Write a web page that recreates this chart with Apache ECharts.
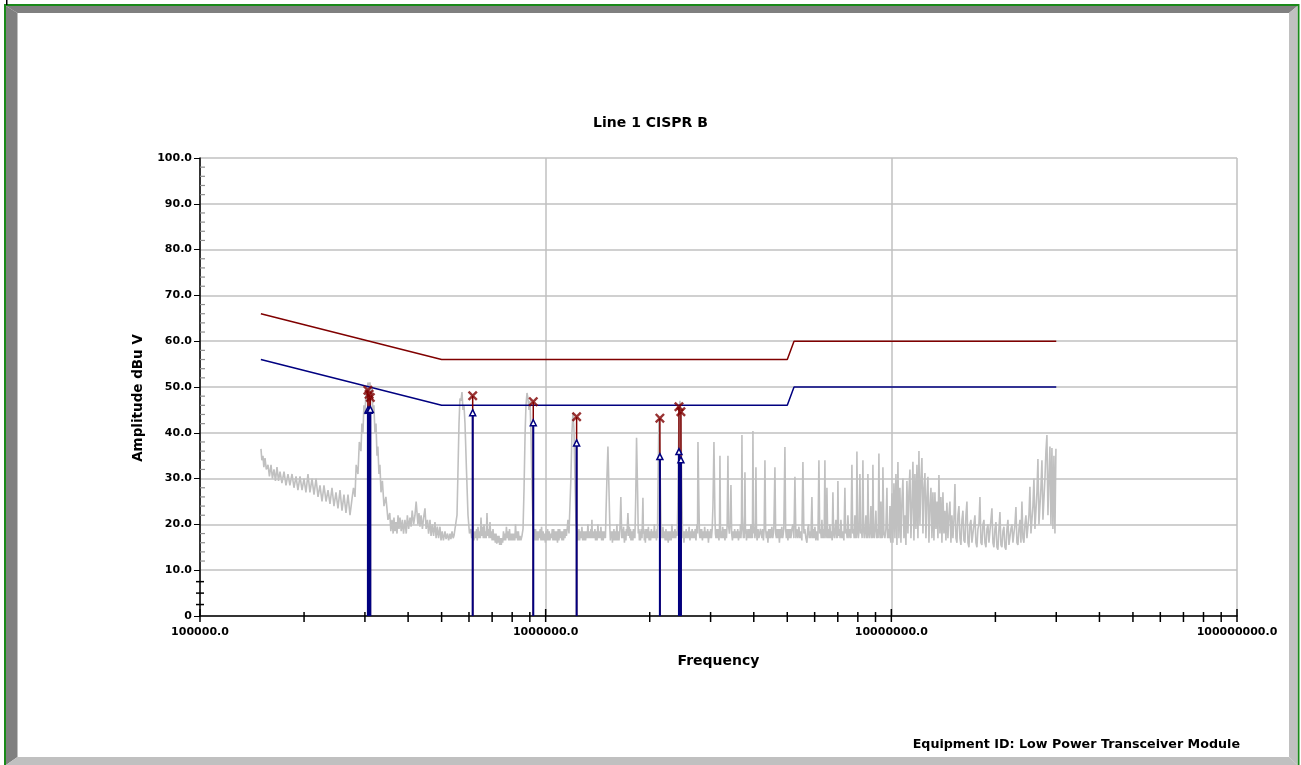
<!DOCTYPE html>
<html>
<head>
<meta charset="utf-8">
<script src="https://cdn.jsdelivr.net/npm/echarts@6/dist/echarts.min.js"></script>
<style>
html,body{margin:0;padding:0;background:#fff;}
#chart{width:1301px;height:765px;}
</style>
</head>
<body>
<div id="chart"></div>
<script>
// ---------- DATA ----------
const chartTitle = 'Line 1 CISPR B';
const equipmentText = 'Equipment ID: Low Power Transceiver Module';
const yAxisTitle = 'Amplitude dBu V';
const xAxisTitle = 'Frequency';

// limit lines (frequency in kHz)
const limitFreqKHz = [150, 500, 5000, 5230, 30000];
const qpLimit = [66, 56, 56, 60, 60];
const avgLimit = [56, 46, 46, 50, 50];

// measured peaks (frequency in kHz)
const peakFreqKHz = [306, 308.5, 311, 615, 920.8, 1229, 2140, 2430, 2462];
const peakQP = [49.3, 48.4, 47.7, 48.1, 46.8, 43.5, 43.2, 45.7, 44.6];
const peakAvg = [45.0, 44.9, 45.1, 44.4, 42.2, 37.8, 34.8, 35.9, 34.1];

// scan trace [kHz, dBuV]
const spectrum = [
[150.1,36.5],[151,34],[152.1,35],[153,32.5],[154.2,34.5],[155.5,32],[157.3,33],[158.8,30.5],[160.5,33],[162,30],
[163.7,32],[165.3,29.5],[167.0,32.5],[168.7,29.5],[170.4,31.5],[172.6,29],[175.0,31.5],[177.3,28.5],[179.7,31],[182,28.5],
[184.6,31],[187,28],[189.6,30.5],[192,27.5],[194.7,30.5],[197.3,27.5],[199.9,30],[202.5,27],[205.3,31],[208,27],
[210.9,30],[213.7,26.5],[216.6,30],[219.5,26],[222.4,28.5],[225.4,25],[228.4,28.5],[231.5,25],[234.6,27.5],[237.7,24.5],
[240.9,28],[244.1,24],[247.4,27],[250.7,23.5],[254.1,27.5],[257.5,23],[260.9,26.5],[264.4,22.5],[268.0,26.5],[271.6,22],
[275.2,25.5],[278,28],[280.8,26],[283,33],[286.4,31],
[289,38],[292.2,36],[294,42],[296.1,40],[298,46],[300.1,44],[302,48.5],[304.1,47],[306.1,51],[308.2,49.5],
[310.2,51],[312.3,48.5],[314,50],[316.5,44.5],[318.5,46],[320.7,40],[323,42],[325.1,35],[327,37],[329.4,31],
[331.5,33],[333.9,27],[337,29.5],[340.6,24],[345,26],[349.8,21],
[354,22.5],[356.5,18.5],[359.3,21],[362,18],[364,21.5],[366.5,18.5],[368.9,20.5],[371.5,18],[374,22],[376.5,19],
[378.9,21.5],[382,18.5],[385,21],[388,18],[391.7,21],[395,18],[398,22],[401.5,19],[405.0,21.5],[408,19.5],
[411,23],[415,20],[418.7,22],[422,25],[427,20],[430,22.5],[432.9,19.5],[436,22],[440,19],[443.5,21.5],
[447.6,23.5],[451,19],[455,21],[458.5,18],[462.7,21],[466,17.5],[470,20],[474,17.5],[478.4,20.5],[482,17],
[486,19.5],[490,17],[494.6,19.5],[498,16.5],[502,18.5],[506,16.5],[511.4,18.5],[515,16.8],[520,18],[524,16.5],
[528.7,18],[532,16.8],[536,18.5],[540,17],[543.0,17.5],
[549,20],[554.0,22],[557,30],[561.4,42],[565,47.5],[568.9,47],[572.7,48.9],[576.5,45],[580.4,46],[584.3,42],[590,32],[596.1,22],[602,18],
[608,19],[611,17],[615,18.5],[620,16.5],[624.5,18.5],[628,17],[631,19],[634,16.5],[637.1,19.5],[641,17],
[644,18.5],[647,17],[650.0,21.5],[654,17.5],[657,19.5],[660,17],[663.1,20],[667,17],[670,18.5],[673,17],
[676.5,22.5],[680,17.5],[683,19],[686,17],[690.2,20.5],[694,17],[697,18.5],[700,16.5],[704.1,19],[708,16.5],
[711,18],[715,16],[718.3,18],[722,15.8],[725,17.5],[729,16],[732.8,17.5],[736,15.5],[740,17],[744,15.5],
[747.6,17],[751,16],[755,18.5],[759,16.5],[762.7,18],[766,16.5],[770,19.5],[774,17],[778.1,18.5],[782,16.5],
[786,19],[790,16.5],[793.7,18],[797,16.5],[801,18],[805,16.5],[809.7,18],[814,16.5],[818,20],[822,17],
[826.1,18.5],[830,16.5],[834,18.5],[838,16.5],[842.7,17.5],[848,16.5],[854.0,17.5],
[860,19],[866,28],[872,40],[877.1,46],[883.0,48.7],[888.9,47.5],[894.8,45],[900.8,47],[906.8,40],[912.9,28],[919.0,20],
[925,17.5],[928,19],[931.3,16.5],[935,19],[940,16.5],[945,18.5],[950.1,16.5],[955,18.5],[960,17],[964,19],
[969.2,16.5],[973,19.5],[978,16.5],[983,18.5],[988.8,16.5],[993,18],[998,16],[1003,18.5],[1008.7,16.5],[1013,19],
[1019,16.5],[1024,18.5],[1029.0,16.5],[1034,18],[1040,17],[1045,19],[1049.8,16.5],[1055,19],[1060,16.5],[1065,18.5],
[1070.9,16.5],[1076,18.5],[1082,16],[1087,19],[1092.5,16.5],[1098,19],[1104,17],[1109,18.5],[1114.6,16.5],[1120,18.5],
[1126,16.5],[1131,19],[1137.0,17],[1142,19],[1148,17.5],[1154,19],[1160.0,21],[1168,18],[1175.5,24],[1183,30],
[1191.3,40],[1199.2,44.3],[1207.2,41],[1215.3,30],[1223.4,21],[1231.6,18],[1236,16.5],[1240,18.5],[1244,16.5],[1248.1,19],
[1254,16.5],[1260,18.5],[1266,17],[1273.3,19.5],[1280,16.5],[1286,18.5],[1292,16.5],[1299.0,18.5],[1305,16.5],[1312,18.5],
[1318,17],[1325.2,20],[1331,17],[1338,18.5],[1345,17],[1351.9,19],[1356,17],[1360.9,21],[1365,17],[1370,18.5],
[1379,17],[1388.4,19],[1394,16.5],[1400,18.5],[1408,16.5],[1416.4,20],[1423,17],[1430,18.5],[1437,17],[1445.0,19.5],
[1452,16.5],[1460,18.5],[1467,16.5],[1474.2,18.5],[1479,17],[1484,18.5],[1489,17],[1494.0,22],[1503.9,30],[1514.0,37],
[1524.1,28],[1534,19],[1539,16.5],[1544.6,18.5],[1550,17],
[1555,18.5],[1560,16],[1565,18.5],[1570,16.5],[1575.7,19],[1582,16.5],[1590,18.5],[1598,16.5],[1607.5,20],[1613,16.5],
[1620,18.5],[1630,16.5],[1639.9,19],[1650,26],[1660,17],[1666,19],[1673.0,17],[1680,19.5],[1690,16],[1698,18.5],
[1706.8,16.5],[1712,19],[1718,17.5],[1729.7,22.5],[1740,17.5],[1746,19.5],[1752.9,17],[1759,19],[1765,16.5],[1770,18.5],
[1776.4,16.5],[1782,18.5],[1788,16.5],[1794,19],[1800.2,17],[1806,19],[1812,17],[1822,26],[1832,38.9],[1845,27],
[1853,18],[1861,19],[1867,16.5],[1873.7,18.5],[1880,16.5],[1890,19],[1900,17],[1911.5,25.8],[1918,18],[1924,19],
[1930,16.5],[1937.2,18.5],[1943,16],[1950,19],[1957,17],[1963.2,19],[1972,17],[1982,19.5],[1992,16.5],[2002.7,18.5],
[2012,16.5],[2022,19],[2032,17],[2043.1,18.5],[2053,17],[2063,20],[2073,17],[2084.4,18.5],[2092,16.5],[2100,19],
[2106,17],[2112.3,28],[2126.4,43],[2140.6,35],[2154.9,20],[2162,17],[2170,18.5],[2177,17],[2183.8,19.5],[2195,17],
[2206,18.5],[2217,16.5],[2228.3,19],[2239,16.5],[2250,18.5],[2262,16],[2273.2,18.5],[2285,16.5],[2296,18.5],[2307,16.5],
[2319.2,20],[2330,17],[2342,18.5],[2354,17],[2366.0,19],[2378,17],[2390,18.5],[2402,17.5],[2413.7,26],[2429.8,44],
[2446.1,47],[2462.5,42],[2478.9,26],[2487,19],[2495,17],[2503,18.5],[2512.2,16],[2525,18.5],[2537,17],[2550,19],
[2562.9,17],[2575,18.5],[2588,17],[2600,19.5],[2614.7,16.5],[2627,18.5],[2640,17],[2653,19],[2667.5,17],[2680,18.5],
[2694,17],[2707,19],[2721.3,16.5],[2730,18.5],[2740,20],[2750,18],[2757.8,38],[2776.2,24],[2785,18],[2795,17],
[2804,19],[2813.4,17],[2827,19],[2841,16.5],[2855,18.5],[2870.2,17],[2884,19.5],[2899,17],[2913,18.5],[2928.2,17],
[2942,19],[2957,16],[2972,18.5],[2987.3,17],[3002,19],[3017,17],[3032,19],[3047.5,24],[3067.9,38],[3088,22],
[3098,18],[3109.0,17],[3125,19],[3140,17],[3156,19],[3171.8,16.5],[3183,18.5],[3193.0,35],[3204,19],[3214,17],
[3225,18.5],[3235.8,17],[3252,19.5],[3268,17],[3284,19],[3301.1,16.5],[3318,19],[3334,17],[3350,20],[3367.7,35],
[3380,20],[3400,18],[3418,20],[3435.7,28.6],[3452,18],[3470,16.5],[3488,18.5],[3505.0,17],[3522,19],[3540,17],
[3558,18.5],[3575.8,17],[3594,19],[3612,16.5],[3630,18.5],[3647.9,17],[3660,20],[3672,17],[3684,19],[3696.8,39.5],
[3709,22],[3721.5,19],[3734,17],[3746,19],[3758,17],[3771.4,31.4],[3785,18],[3800,19],[3811,16.5],[3822,18.5],
[3835,17],[3847.5,19],[3866,17],[3885,19],[3905,17],[3925.1,20],[3938,17],[3950,19],[3964,17],[3977.7,40.4],
[3991,21],[4004.3,18],[4017,19.5],[4030,17],[4044,19],[4058.0,32.5],[4074,18],[4090,16.5],[4115,19],
[4139.9,17],[4181,19],[4223.4,17],[4244,19],[4265,16.5],[4287,19],[4308.6,34],[4329,19],[4350,17],[4372,18.5],
[4395.5,16],[4418,19],[4440,17],[4462,19],[4484.2,17],[4512,19.5],[4540,17],[4572,19],[4605.2,32.5],[4628,18],
[4650,17],[4674,19],[4698.2,17],[4722,19],[4745,16],[4769,19],[4792.9,17],[4821,19.5],[4850,17],[4886,19],
[4922.3,36.9],[4946,19],[4970,17],[4996,19],[5021.6,16.5],[5046,19],[5070,17],[5096,19],[5122.9,17],[5156,19],
[5190,20],[5226,17],[5261.2,30.4],[5296,17],[5330,19],[5367,17],[5403.2,19.5],[5436,17],[5470,18.5],[5510,16.5],
[5549.1,33.6],[5585,18],[5620,19],[5660,17],[5698.9,16],[5730,19],[5760,20],[5787,17],[5813.9,18.5],[5852,17],
[5891.9,26],[5920,17],[5950,19],[5980,17],[6010.8,19.5],[6050,16.5],[6090,18.5],[6131,16.5],[6173.1,34],[6206,18],
[6240,19],[6270,17],[6297.6,21],[6330,17],[6360,19],[6392,17],[6424.7,34],[6447,19],[6470,17],[6490,19],
[6510.9,28],[6545,17],[6580,19],[6611,17],[6642.3,20],[6676,17],[6710,18.5],[6743,16.5],[6776.3,27],[6808,18],
[6840,17],[6876,19],[6913.1,21],[6936,17],[6960,19],[6983,17],[7005.8,29.5],[7038,17.5],[7070,19],[7108,17],
[7147.2,21],[7193,17],[7240,18.5],[7290,16.5],[7340.2,28],[7375,18],[7410,19],[7450,17],[7488.3,22],[7540,17],
[7590,19],[7640,17],[7690.5,33],[7730,18],[7770,19],[7808,17],[7845.7,22],[7872,17],[7900,19],[7925,17],
[7951.1,35.9],[7990,19],[8030,17],[8070,19],[8111.5,31],[8150,18],[8190,19],[8232,17],[8275.2,34],[8312,19],
[8350,17],[8396,19],[8442.2,22],[8470,17],[8500,19],[8527,17],[8555.5,31],[8598,18.5],[8640,17],[8684,19],
[8728.1,24],[8759,17],[8790,19],[8818,17],[8845.3,33],[8883,19],[8920,17],[8972,19],[9023.8,23],[9066,17],
[9110,19],[9158,17],[9205.9,35.5],[9243,19],[9280,17],[9305,19],[9329.5,25],[9360,17],[9390,19],[9422,17],
[9454.7,32.5],[9517,18],[9580,17],[9645,19],[9711.3,28],[9755,17],[9800,19],[9854,17],[9907.3,24],[9940,17],[9970,16],
[10040,26.8],[10107,16],[10175,29],[10243,17],[10311,31],[10380,15.5],[10449,33.6],[10519,17],[10589,28],[10660,16],
[10731,25],[10803,30],[10875,17],[10948,22],[11021,15.5],[11095,29.5],[11169,18],[11243,27],[11319,32],[11394,17],
[11471,24],[11547,33.7],[11625,16.5],[11702,31],[11781,19],[11860,33],[11939,17],[12019,36],[12099,20],[12180,30],
[12261,34.5],[12343,18],[12426,28],[12509,31.2],[12592,17],[12677,26],[12761,30.4],[12847,16],[12932,24],[13019,28],
[13106,17],[13193,27],[13281,16.5],[13370,27],[13459,19],[13549,25],[13640,17],[13731,30.8],[13823,18],[13915,26],
[14008,16],[14102,27],[14196,18],[14291,23],[14386,16.5],[14482,24.7],[14579,17],[14676,22],[14774,25],[14873,16],
[14973,22],[15073,17],[15174,21],
[15276,28.8],[15378,17],[15481,16],[15585,22],[15689,24],[15794,17],[15899,15.5],[16005,21],[16112,23],[16220,16.5],
[16328,16],[16437,22],[16547,25],[16658,16],[16769,15],[16881,20],[16993,21],[17107,16],[17221,16],[17336,20],
[17452,22],[17569,16],[17686,15],[17804,19],[17923,20],[18044,26],[18165,16],[18287,15.5],[18409,20],[18532,21],
[18656,16],[18781,15],[18906,19],[19032,20],[19159,16],[19287,16],[19416,21],[19545,23.5],[19676,16],[19807,15],
[19940,19],[20073,20.5],[20207,15],[20342,14.5],[20479,19],[20615,22.7],[20753,15.5],[20891,15],[21031,18.5],[21171,19.5],
[21313,15],[21455,14.5],[21599,19],[21743,21],[21889,15.5],[22035,15.5],[22182,19],[22330,20],[22479,16],[22629,16],
[22781,20],[22933,23.8],[23086,16],[23240,15.5],[23396,19],[23552,21],[23709,16],[23868,25],[24028,17],[24188,16],
[24350,20],[24512,22],[24676,17],[24842,17],[25008,22],[25175,28.2],[25344,18],[25513,18],[25683,24],[25855,30],
[26028,19],[26202,19],[26377,27],[26553,34.3],[26731,20],[26909,20],[27089,28],[27270,34],[27452,21],[27636,21],
[27820,30],[28006,36],[28193,39.5],[28382,22],[28572,30],[28762,37],[28955,20],[29149,36.7],[29343,19],[29540,35],
[29738,18],[29935,36.5]
];

// axis tick positions
const xDecadeTicks = [1e5, 1e6, 1e7, 1e8];
const xMinorTicks = [2e5,3e5,4e5,5e5,6e5,7e5,8e5,9e5, 2e6,3e6,4e6,5e6,6e6,7e6,8e6,9e6, 2e7,3e7,4e7,5e7,6e7,7e7,8e7,9e7];
const yMinorTicks = [12,14,16,18,22,24,26,28,32,34,36,38,42,44,46,48,52,54,56,58,62,64,66,68,72,74,76,78,82,84,86,88,92,94,96,98];
const yLowTicks = [2.5, 5, 7.5];

// ---------- CHART ----------
const FONT = 'DejaVu Sans';
const RED = '#800000';
const NAVY = '#000080';
const chart = echarts.init(document.getElementById('chart'), null, {renderer: 'canvas'});

const kHz = 1000;
const traceData = spectrum.map(p => [p[0] * kHz, p[1]]);
const qpLimitData = limitFreqKHz.map((f, i) => [f * kHz, qpLimit[i]]);
const avgLimitData = limitFreqKHz.map((f, i) => [f * kHz, avgLimit[i]]);
const qpData = peakFreqKHz.map((f, i) => [f * kHz, peakQP[i]]);
const avgData = peakFreqKHz.map((f, i) => [f * kHz, peakAvg[i]]);

function stemRenderer(color, width) {
  return function (params, api) {
    const top = api.coord([api.value(0), api.value(1)]);
    const base = api.coord([api.value(0), 0]);
    return {type: 'line', shape: {x1: top[0], y1: top[1], x2: base[0], y2: base[1]},
            style: {stroke: color, lineWidth: width}};
  };
}

const xTickData = xDecadeTicks.map(f => [f, 0, 1]).concat(xMinorTicks.map(f => [f, 0, 0]));
const yTickData = yMinorTicks.map(v => [1e5, v, 0]).concat(yLowTicks.map(v => [1e5, v, 1]));

const X_SHAPE = 'path://M0,1.7L1.7,0L5,3.3L8.3,0L10,1.7L6.7,5L10,8.3L8.3,10L5,6.7L1.7,10L0,8.3L3.3,5Z';

const option = {
  animation: false,
  backgroundColor: '#fff',
  title: {
    text: chartTitle, left: 'center', top: 111,
    textStyle: {fontFamily: FONT, fontSize: 14, fontWeight: 'bold', color: '#000'}
  },
  grid: {left: 200, right: 64, top: 158, bottom: 149, containLabel: false},
  xAxis: {
    type: 'log', logBase: 10, min: 1e5, max: 1e8,
    axisLine: {show: true, onZero: false, lineStyle: {color: '#000', width: 1.5}},
    axisTick: {show: false},
    axisLabel: {formatter: v => Number(v).toFixed(1), fontFamily: FONT, fontSize: 11, fontWeight: 'bold', color: '#000', margin: 11},
    splitLine: {show: true, lineStyle: {color: '#c0c0c0', width: 1.5}},
    minorTick: {show: false}, minorSplitLine: {show: false},
    name: xAxisTitle, nameLocation: 'middle', nameGap: 38,
    nameTextStyle: {fontFamily: FONT, fontSize: 14, fontWeight: 'bold', color: '#000'}
  },
  yAxis: {
    type: 'value', min: 0, max: 100, interval: 10,
    axisLine: {show: true, onZero: false, lineStyle: {color: '#000', width: 1.5}},
    axisTick: {show: true, length: 6, lineStyle: {color: '#000', width: 1}},
    axisLabel: {formatter: v => v === 0 ? '0' : v.toFixed(1), fontFamily: FONT, fontSize: 11, fontWeight: 'bold', color: '#000', margin: 8},
    splitLine: {show: true, lineStyle: {color: '#c0c0c0', width: 1.5}}
  },
  graphic: [
    // outer frame
    {type: 'rect', z: -10, silent: true, shape: {x: 5, y: 5, width: 1293.5, height: 762}, style: {fill: 'none', stroke: '#1a8a1a', lineWidth: 2}},
    {type: 'polygon', z: -9, silent: true, shape: {points: [[6,6],[1297.5,6],[1289,13],[17.5,13]]}, style: {fill: '#808080'}},
    {type: 'polygon', z: -9, silent: true, shape: {points: [[6,6],[17.5,13],[17.5,757],[6,765]]}, style: {fill: '#808080'}},
    {type: 'polygon', z: -9, silent: true, shape: {points: [[1297.5,6],[1297.5,765],[1289,757],[1289,13]]}, style: {fill: '#c0c0c0'}},
    {type: 'polygon', z: -9, silent: true, shape: {points: [[6,765],[1297.5,765],[1289,757],[17.5,757]]}, style: {fill: '#c0c0c0'}},
    {type: 'rect', z: -9, silent: true, shape: {x: 6, y: 0, width: 1.5, height: 5}, style: {fill: '#000'}},
    // y axis title
    {type: 'text', silent: true, x: 138, y: 398, rotation: Math.PI / 2,
     style: {text: yAxisTitle, fontFamily: FONT, fontSize: 13.5, fontWeight: 'bold', fill: '#000', align: 'center', verticalAlign: 'middle'}},
    // equipment id
    {type: 'text', silent: true, right: 61, top: 738,
     style: {text: equipmentText, fontFamily: FONT, fontSize: 12.7, fontWeight: 'bold', fill: '#000'}}
  ],
  series: [
    {type: 'line', name: 'scan', data: traceData, showSymbol: false, symbol: 'none', sampling: false,
     lineStyle: {color: '#c0c0c0', width: 1.6}, z: 2, silent: true},
    {type: 'line', name: 'QP limit', data: qpLimitData, showSymbol: false, symbol: 'none',
     lineStyle: {color: RED, width: 1.5}, z: 3, silent: true},
    {type: 'line', name: 'AV limit', data: avgLimitData, showSymbol: false, symbol: 'none',
     lineStyle: {color: NAVY, width: 1.5}, z: 3, silent: true},
    {type: 'custom', name: 'QP stems', data: qpData, renderItem: stemRenderer(RED, 1.5), z: 4, silent: true, clip: false,
     encode: {x: 0, y: 1}},
    {type: 'custom', name: 'AV stems', data: avgData, renderItem: stemRenderer(NAVY, 2), z: 5, silent: true, clip: false,
     encode: {x: 0, y: 1}},
    {type: 'scatter', name: 'QP', data: qpData, symbol: X_SHAPE, symbolSize: 10,
     itemStyle: {color: RED}, z: 6, silent: true},
    {type: 'scatter', name: 'AV', data: avgData, symbol: 'triangle', symbolSize: 6,
     itemStyle: {color: '#fff', borderColor: NAVY, borderWidth: 1.5, opacity: 1}, z: 7, silent: true},
    {type: 'custom', name: 'x ticks', data: xTickData, z: 8, silent: true, clip: false, encode: {x: 0, y: 1},
     renderItem: function (params, api) {
       const p = api.coord([api.value(0), 0]);
       const big = api.value(2) === 1;
       return {type: 'line', shape: {x1: p[0], y1: p[1] - (big ? 7 : 4), x2: p[0], y2: p[1] + 6},
               style: {stroke: '#000', lineWidth: 1.5}};
     }},
    {type: 'custom', name: 'y ticks', data: yTickData, z: 8, silent: true, clip: false, encode: {x: 0, y: 1},
     renderItem: function (params, api) {
       const p = api.coord([api.value(0), api.value(1)]);
       const low = api.value(2) === 1;
       return {type: 'line', shape: {x1: p[0] + (low ? -4 : 0), y1: p[1], x2: p[0] + (low ? 4 : 5), y2: p[1]},
               style: {stroke: low ? '#000' : '#909090', lineWidth: low ? 1.5 : 1.2}};
     }}
  ]
};
chart.setOption(option);
</script>
</body>
</html>
